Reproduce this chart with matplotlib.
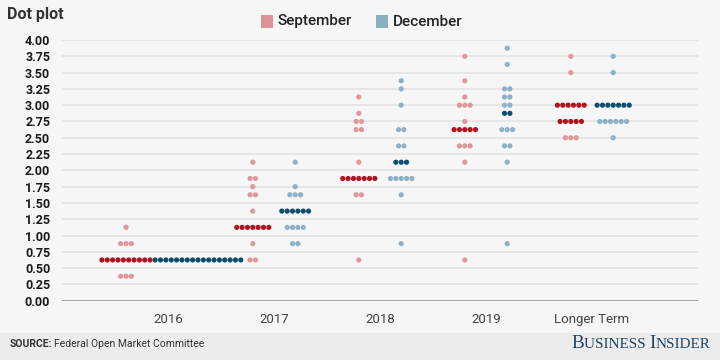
import numpy as np
import matplotlib.pyplot as plt
from matplotlib.patches import Rectangle

plt.rcParams['font.family'] = ['Roboto', 'DejaVu Sans']

# categories on the x axis
categories = ['2016', '2017', '2018', '2019', 'Longer Term']

# (rate, number of participants)
sep_2016 = [(0.375, 3), (0.625, 10), (0.875, 3), (1.125, 1)]
sep_2017 = [(0.625, 2), (0.875, 1), (1.125, 7), (1.375, 1), (1.625, 2), (1.75, 1), (1.875, 2), (2.125, 1)]
sep_2018 = [(0.625, 1), (1.625, 2), (1.875, 7), (2.125, 1), (2.625, 2), (2.75, 2), (2.875, 1), (3.125, 1)]
sep_2019 = [(0.625, 1), (2.125, 1), (2.375, 3), (2.625, 5), (2.75, 1), (3.0, 3), (3.125, 1), (3.375, 1), (3.75, 1)]
sep_lt = [(2.5, 3), (2.75, 5), (3.0, 6), (3.5, 1), (3.75, 1)]

dec_2016 = [(0.625, 17)]
dec_2017 = [(0.875, 2), (1.125, 4), (1.375, 6), (1.625, 3), (1.75, 1), (2.125, 1)]
dec_2018 = [(0.875, 1), (1.625, 1), (1.875, 5), (2.125, 3), (2.375, 2), (2.625, 2), (3.0, 1), (3.25, 1), (3.375, 1)]
dec_2019 = [(0.875, 1), (2.125, 1), (2.375, 2), (2.625, 3), (2.875, 2), (3.0, 2), (3.125, 2), (3.25, 2), (3.625, 1), (3.875, 1)]
dec_lt = [(2.5, 1), (2.75, 6), (3.0, 7), (3.5, 1), (3.75, 1)]

sep = [sep_2016, sep_2017, sep_2018, sep_2019, sep_lt]
dec = [dec_2016, dec_2017, dec_2018, dec_2019, dec_lt]

yticks = np.arange(0, 4.01, 0.25)

# layout
sep_offset = [-0.396, -0.2, -0.2, -0.2, -0.2]
dec_offset = [0.283, 0.2, 0.2, 0.2, 0.2]
step = 0.0505

bg = '#f6f6f6'
fig = plt.figure(figsize=(7.2, 3.6), dpi=100, facecolor=bg)
ax = fig.add_axes([62 / 720, 1 - 300.7 / 360, 636 / 720, 260.7 / 360])
ax.set_facecolor(bg)

# footer band
fig.patches.append(Rectangle((0, 0), 1, 27 / 360, transform=fig.transFigure,
                             facecolor='#ececec', edgecolor='none', zorder=0))


def draw(rows, offsets, light, dark):
    for i, group in enumerate(rows):
        vals = sorted(v for v, c in group for _ in range(c))
        n = len(vals)
        med = {vals[(n - 1) // 2], vals[n // 2]}
        for rate, count in group:
            xs = i + offsets[i] + (np.arange(count) - (count - 1) / 2) * step
            col = dark if rate in med else light
            ax.scatter(xs, [rate] * count, s=14, color=col, edgecolors='none',
                       zorder=3, clip_on=False)


draw(sep, sep_offset, '#e0969b', '#b3121f')
draw(dec, dec_offset, '#8db2c5', '#0d4f70')

ax.set_xlim(-1, 5)
ax.set_ylim(0, 4)
ax.set_yticks(yticks)
ax.set_yticklabels([f'{t:.2f}' for t in yticks], fontsize=9, fontweight='bold', color='#1a1a1a')
ax.set_xticks(range(len(categories)))
ax.set_xticklabels(categories, fontsize=9.5, color='#444444')
ax.tick_params(length=0)
ax.tick_params(axis='y', pad=8.5)
ax.tick_params(axis='x', pad=9)
for t in yticks[1:]:
    ax.axhline(t, color='#e2e2e2', lw=1.1, zorder=1)
ax.axhline(0, color='#a0a0a0', lw=1.3, zorder=2)
for s in ax.spines.values():
    s.set_visible(False)

fig.text(7 / 720, 1 - 15 / 360, 'Dot plot', fontsize=11.5, fontweight='bold',
         color='#333333', va='center')

# legend
fig.patches.append(Rectangle((261 / 720, 1 - 28 / 360), 12 / 720, 13 / 360,
                             transform=fig.transFigure, facecolor='#de9297', edgecolor='none'))
fig.text(278 / 720, 1 - 21.5 / 360, 'September', fontsize=11, fontweight='medium',
         color='#222222', va='center')
fig.patches.append(Rectangle((376 / 720, 1 - 28 / 360), 12 / 720, 13 / 360,
                             transform=fig.transFigure, facecolor='#8aafc2', edgecolor='none'))
fig.text(393 / 720, 1 - 21.5 / 360, 'December', fontsize=11, fontweight='medium',
         color='#222222', va='center')

# footer
fig.text(10 / 720, 1 - 344 / 360, 'SOURCE:', fontsize=7.5, fontweight='bold',
         color='#333333', va='center')
fig.text(54 / 720, 1 - 344 / 360, 'Federal Open Market Committee', fontsize=7.5,
         color='#333333', va='center')

# small caps logo, placed piece by piece
renderer = fig.canvas.get_renderer()
x = 571
for piece, size in [('B', 13.8), ('USINESS ', 10.9), ('I', 13.8), ('NSIDER', 10.9)]:
    t = fig.text(x / 720, 1 - 348.5 / 360, piece, fontsize=size, family='Liberation Serif',
                 color='#1d4466', ha='left', va='baseline')
    x += t.get_window_extent(renderer).width

fig.savefig('out.png', dpi=100, facecolor=bg)
